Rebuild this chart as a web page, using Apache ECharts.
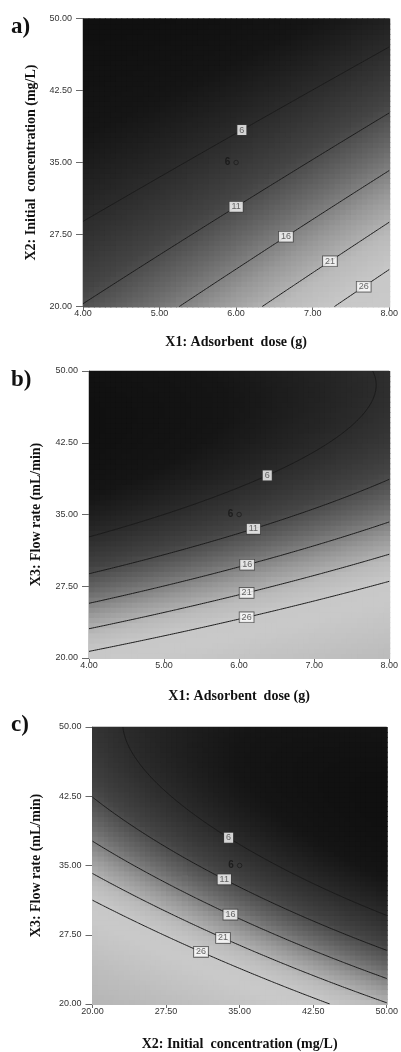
<!DOCTYPE html>
<html>
<head>
<meta charset="utf-8">
<script src="https://cdn.jsdelivr.net/npm/echarts@6/dist/echarts.min.js"></script>
<style>
  html, body { margin: 0; padding: 0; background: #ffffff; }
  #chart { width: 401px; height: 1052px; }
</style>
</head>
<body>
<div id="chart"></div>
<script>
// Response levels drawn as contour lines on every plot
const contourLevels = [6, 11, 16, 21, 26];

// Factor ranges (actual units) and their tick values
const doseRange = [4, 8];
const concRange = [20, 50];
const flowRange = [20, 50];
const doseTicks = [4, 5, 6, 7, 8];
const concTicks = [20, 27.5, 35, 42.5, 50];
const flowTicks = [20, 27.5, 35, 42.5, 50];

// Quadratic response-surface terms in coded units:
// [intercept, A, B, A^2, B^2, AB]
const modelA = [7.87, 6.05, -9.60, 1.35, 1.87, -3.45];    // X1 (A) vs X2 (B)
const modelB = [8.70, 5.69, -16.235, 0.607, 10.30, -2.595]; // X1 (A) vs X3 (B)
const modelC = [8.22, -9.26, -16.20, 2.18, 10.40, 6.475];  // X2 (A) vs X3 (B)

// Contour label anchors [x, y, level]
const labelsA = [[6.06, 38.56, 6], [6.00, 30.47, 11], [6.62, 27.45, 16], [7.18, 25.19, 21], [7.60, 22.76, 26]];
const labelsB = [[6.40, 38.46, 6], [6.20, 33.23, 11], [6.11, 29.60, 16], [6.10, 26.70, 21], [6.10, 24.27, 26]];
const labelsC = [[33.72, 37.94, 6], [33.39, 33.48, 11], [34.05, 29.74, 16], [33.39, 27.33, 21], [31.14, 25.78, 26]];

// Design centre point [x, y, replicates]
const centreA = [[6, 35, 6]];
const centreB = [[6, 35, 6]];
const centreC = [[35, 35, 6]];

const panels = [
  { letter: 'a)', model: modelA, xr: doseRange, yr: concRange, xTicks: doseTicks, yTicks: concTicks,
    xName: 'X1: Adsorbent  dose (g)', yName: 'X2: Initial  concentration (mg/L)',
    labels: labelsA, centre: centreA,
    grid: { left: 83, top: 18.5, width: 307, height: 288 }, letterTop: 16, xGap: 29, yGap: 40 },
  { letter: 'b)', model: modelB, xr: doseRange, yr: flowRange, xTicks: doseTicks, yTicks: flowTicks,
    xName: 'X1: Adsorbent  dose (g)', yName: 'X3: Flow rate (mL/min)',
    labels: labelsB, centre: centreB,
    grid: { left: 89, top: 371, width: 303.5, height: 287 }, letterTop: 369, xGap: 31, yGap: 46 },
  { letter: 'c)', model: modelC, xr: concRange, yr: flowRange, xTicks: concTicks, yTicks: flowTicks,
    xName: 'X2: Initial  concentration (mg/L)', yName: 'X3: Flow rate (mL/min)',
    labels: labelsC, centre: centreC,
    grid: { left: 92.5, top: 727, width: 302, height: 283 }, letterTop: 714, xGap: 33, yGap: 49 }
];

const HEAT_CELLS = 56;
const CONTOUR_STEPS = 160;

function surface(m, u, v) {
  return m[0] + m[1] * u + m[2] * v + m[3] * u * u + m[4] * v * v + m[5] * u * v;
}

function coder(r) {
  const c = (r[0] + r[1]) / 2, h = (r[1] - r[0]) / 2;
  return { toCoded: x => (x - c) / h, toActual: u => c + u * h };
}

// Shaded surface: one rectangle per cell, valued at the cell centre
function heatCells(p) {
  const cx = coder(p.xr), cy = coder(p.yr);
  const dx = (p.xr[1] - p.xr[0]) / HEAT_CELLS, dy = (p.yr[1] - p.yr[0]) / HEAT_CELLS;
  const out = [];
  for (let i = 0; i < HEAT_CELLS; i++) {
    for (let j = 0; j < HEAT_CELLS; j++) {
      const x0 = p.xr[0] + i * dx, y0 = p.yr[0] + j * dy;
      const val = surface(p.model, cx.toCoded(x0 + dx / 2), cy.toCoded(y0 + dy / 2));
      out.push([x0, x0 + dx, y0, y0 + dy, val]);
    }
  }
  return out;
}

// Marching squares, chained into polylines
function contourChains(p, level) {
  const cx = coder(p.xr), cy = coder(p.yr);
  const n = CONTOUR_STEPS;
  const f = [];
  for (let i = 0; i <= n; i++) {
    f[i] = [];
    for (let j = 0; j <= n; j++) {
      f[i][j] = surface(p.model, -1 + 2 * i / n, -1 + 2 * j / n) - level;
    }
  }
  const pts = {}, adj = {};
  const edge = (key, i1, j1, i2, j2) => {
    if (!(key in pts)) {
      const a = f[i1][j1], b = f[i2][j2];
      const t = a / (a - b);
      const u = -1 + 2 * (i1 + (i2 - i1) * t) / n;
      const v = -1 + 2 * (j1 + (j2 - j1) * t) / n;
      pts[key] = [cx.toActual(u), cy.toActual(v)];
    }
    return key;
  };
  const link = (k1, k2) => {
    (adj[k1] = adj[k1] || []).push(k2);
    (adj[k2] = adj[k2] || []).push(k1);
  };
  for (let i = 0; i < n; i++) {
    for (let j = 0; j < n; j++) {
      const a = f[i][j], b = f[i + 1][j], c = f[i + 1][j + 1], d = f[i][j + 1];
      const cr = [];
      if ((a > 0) !== (b > 0)) cr.push(edge('h' + i + '_' + j, i, j, i + 1, j));
      if ((b > 0) !== (c > 0)) cr.push(edge('v' + (i + 1) + '_' + j, i + 1, j, i + 1, j + 1));
      if ((d > 0) !== (c > 0)) cr.push(edge('h' + i + '_' + (j + 1), i, j + 1, i + 1, j + 1));
      if ((a > 0) !== (d > 0)) cr.push(edge('v' + i + '_' + j, i, j, i, j + 1));
      if (cr.length === 2) link(cr[0], cr[1]);
      else if (cr.length === 4) {
        const mid = (a + b + c + d) / 4;
        if ((mid > 0) === (a > 0)) { link(cr[0], cr[1]); link(cr[2], cr[3]); }
        else { link(cr[0], cr[3]); link(cr[1], cr[2]); }
      }
    }
  }
  const used = new Set();
  const walk = start => {
    const chain = [start];
    used.add(start);
    let cur = start;
    for (;;) {
      const nxt = (adj[cur] || []).find(k => !used.has(k));
      if (!nxt) break;
      used.add(nxt);
      chain.push(nxt);
      cur = nxt;
    }
    return chain;
  };
  const chains = [];
  Object.keys(adj).forEach(k => { if (adj[k].length === 1 && !used.has(k)) chains.push(walk(k)); });
  Object.keys(adj).forEach(k => { if (!used.has(k)) { const ch = walk(k); ch.push(ch[0]); chains.push(ch); } });
  return chains.map(ch => ch.map(k => pts[k]));
}

// Put each label on the nearest point of its contour
function snapLabels(p, chainsByLevel) {
  const sx = p.xr[1] - p.xr[0], sy = p.yr[1] - p.yr[0];
  return p.labels.map(l => {
    const chains = chainsByLevel[l[2]] || [];
    let best = null, bd = Infinity;
    chains.forEach(ch => ch.forEach(pt => {
      const d = Math.pow((pt[0] - l[0]) / sx, 2) + Math.pow((pt[1] - l[1]) / sy, 2);
      if (d < bd) { bd = d; best = pt; }
    }));
    return best ? [best[0], best[1], l[2]] : l;
  });
}

function renderCell(params, api) {
  const tl = api.coord([api.value(0), api.value(3)]);
  const br = api.coord([api.value(1), api.value(2)]);
  return {
    type: 'rect',
    shape: { x: tl[0], y: tl[1], width: br[0] - tl[0] + 1, height: br[1] - tl[1] + 1 },
    style: { fill: api.visual('color') }
  };
}

const tickFont = { fontFamily: 'Liberation Sans, Arial, sans-serif', fontSize: 9, color: '#333' };
const nameFont = { fontFamily: 'Liberation Serif, Times New Roman, serif', fontWeight: 'bold', fontSize: 14, color: '#111' };

const grids = [], xAxes = [], yAxes = [], series = [], titles = [], heatIdx = [];

panels.forEach((p, k) => {
  grids.push(Object.assign({ show: true, borderColor: '#8f8f8f', borderWidth: 1, backgroundColor: 'transparent' }, p.grid));
  titles.push({ text: p.letter, left: 11, top: p.letterTop, padding: 0,
    textStyle: { fontFamily: 'Liberation Serif, Times New Roman, serif', fontWeight: 'bold', fontSize: 23, color: '#111' } });
  const xi = p.xTicks[1] - p.xTicks[0], yi = p.yTicks[1] - p.yTicks[0];
  xAxes.push({
    type: 'value', gridIndex: k, min: p.xTicks[0], max: p.xTicks[p.xTicks.length - 1], interval: xi,
    axisLine: { show: true, onZero: false, lineStyle: { color: '#6a6a6a', width: 1 } },
    axisTick: { show: true, length: 4, lineStyle: { color: '#6a6a6a' } },
    axisLabel: Object.assign({ margin: 3, formatter: v => v.toFixed(2) }, tickFont),
    splitLine: { show: false },
    name: p.xName, nameLocation: 'middle', nameGap: p.xGap, nameTextStyle: nameFont
  });
  yAxes.push({
    type: 'value', gridIndex: k, min: p.yTicks[0], max: p.yTicks[p.yTicks.length - 1], interval: yi,
    axisLine: { show: true, onZero: false, lineStyle: { color: '#6a6a6a', width: 1 } },
    axisTick: { show: true, length: 7, lineStyle: { color: '#6a6a6a' } },
    axisLabel: Object.assign({ margin: 11, formatter: v => v.toFixed(2) }, tickFont),
    splitLine: { show: false },
    name: p.yName, nameLocation: 'middle', nameGap: p.yGap, nameTextStyle: nameFont
  });

  heatIdx.push(series.length);
  series.push({
    type: 'custom', xAxisIndex: k, yAxisIndex: k, renderItem: renderCell,
    data: heatCells(p), encode: { x: [0, 1], y: [2, 3] }, clip: true, silent: true, z: 1
  });

  const chainsByLevel = {};
  const lineData = [];
  contourLevels.forEach(L => {
    const chains = contourChains(p, L);
    chainsByLevel[L] = chains;
    chains.forEach(c => lineData.push({ coords: c }));
  });
  series.push({
    type: 'lines', coordinateSystem: 'cartesian2d', xAxisIndex: k, yAxisIndex: k,
    polyline: true, data: lineData, silent: true, z: 3,
    lineStyle: { color: '#1b1b1b', width: 1, opacity: 1 }
  });

  series.push({
    type: 'scatter', xAxisIndex: k, yAxisIndex: k, data: snapLabels(p, chainsByLevel),
    symbolSize: 0, silent: true, z: 5,
    label: {
      show: true, position: 'inside', formatter: d => String(d.value[2]),
      backgroundColor: '#ffffff', borderColor: '#3a3a3a', borderWidth: 0.8,
      padding: [1, 2, 0, 2], fontFamily: 'Liberation Sans, Arial, sans-serif', fontSize: 9, color: '#444', lineHeight: 9
    }
  });

  series.push({
    type: 'scatter', xAxisIndex: k, yAxisIndex: k, data: p.centre,
    symbol: 'circle', symbolSize: 4.5, silent: true, z: 6,
    itemStyle: { color: 'rgba(0,0,0,0)', borderColor: '#1e1e1e', borderWidth: 1 },
    label: {
      show: true, position: 'left', distance: 3, formatter: d => String(d.value[2]),
      fontFamily: 'Liberation Sans, Arial, sans-serif', fontWeight: 'bold', fontSize: 10, color: '#151515'
    }
  });
});

const chart = echarts.init(document.getElementById('chart'), null, { renderer: 'canvas' });
chart.setOption({
  animation: false,
  backgroundColor: '#ffffff',
  title: titles,
  grid: grids,
  xAxis: xAxes,
  yAxis: yAxes,
  visualMap: {
    type: 'continuous', show: false, seriesIndex: heatIdx, dimension: 4,
    min: -2, max: 54,
    inRange: {
      color: ['#0e0e0e', '#151515', '#2c2c2c', '#444444', '#6c6c6c', '#989898', '#bababa',
              '#c8c8c8', '#c9c9c9', '#c5c5c5', '#c1c1c1', '#bdbdbd', '#bababa', '#b7b7b7', '#b5b5b5']
    }
  },
  series: series
});
</script>
</body>
</html>
